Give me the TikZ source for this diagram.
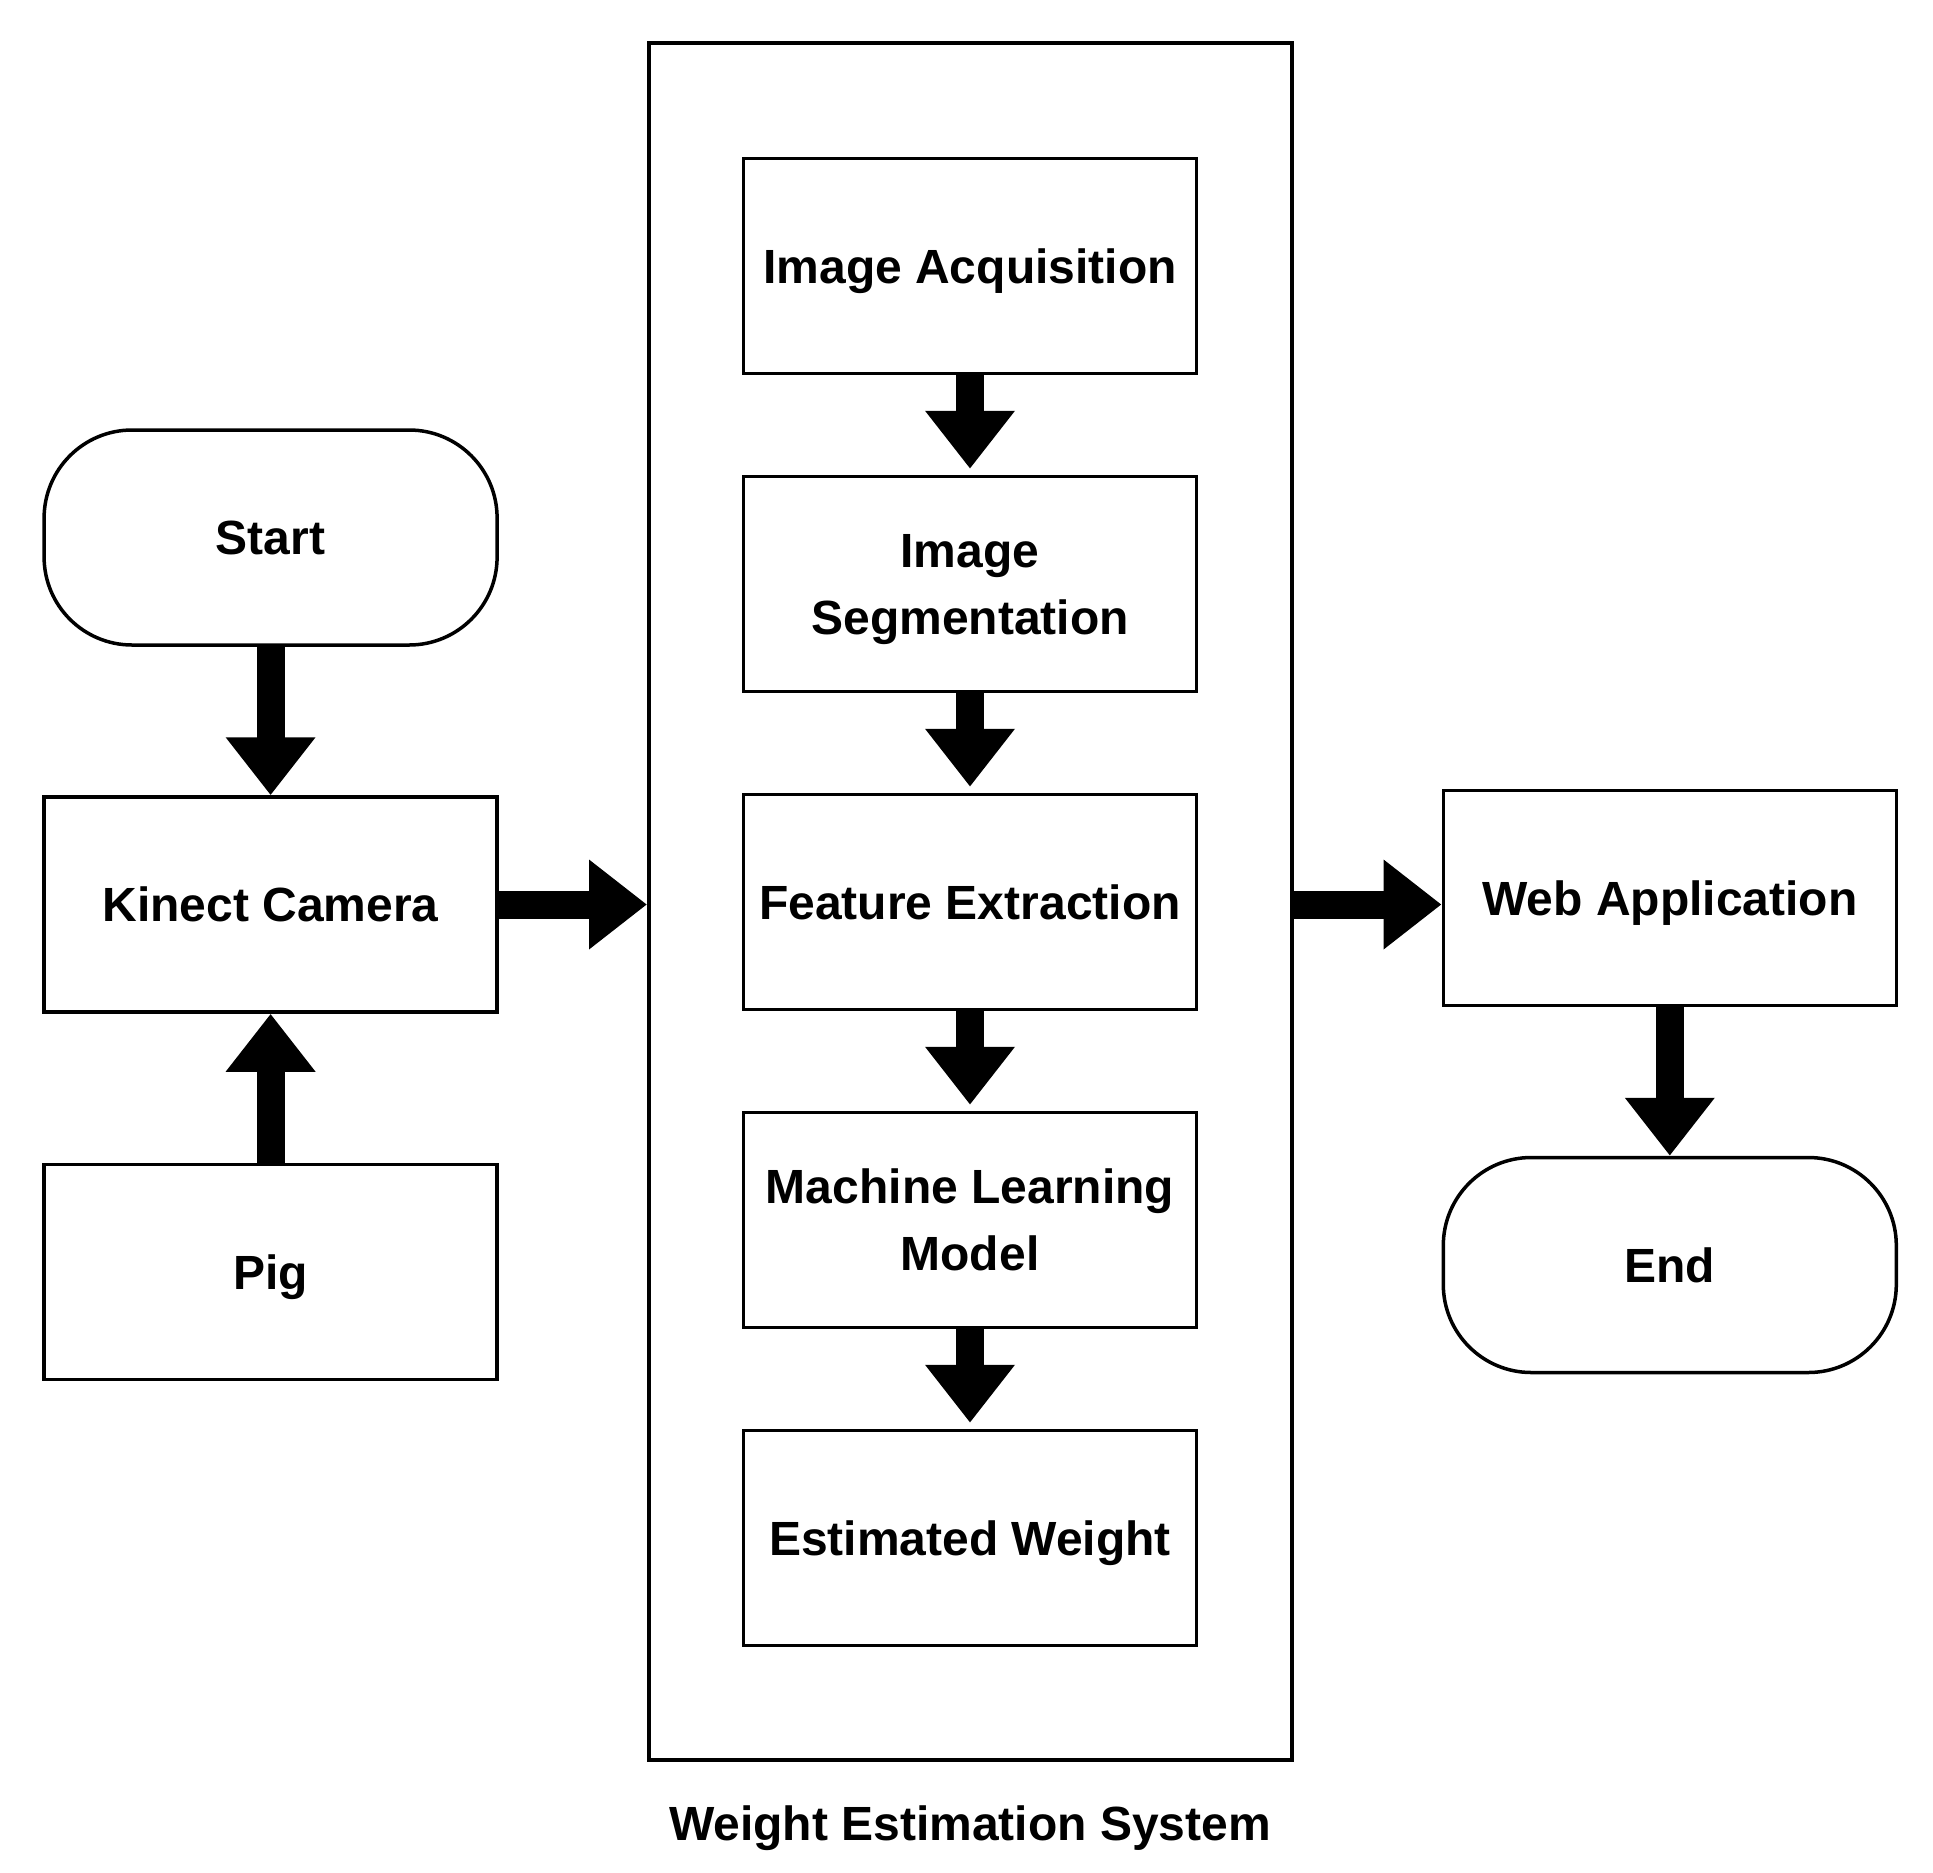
\documentclass[tikz,border=0pt]{standalone}
\usepackage{fontspec}
\setmainfont{Liberation Sans}
\usetikzlibrary{arrows.meta}
\begin{document}
\begin{tikzpicture}[x=1pt,y=-1pt,
  box/.style={draw=black, line width=3.5pt, fill=white, minimum width=453pt, minimum height=215pt,
    align=center, inner sep=0pt, text depth=0pt, font=\fontsize{48}{67}\selectfont\bfseries},
  term/.style={box, rounded corners=88pt},
  blockarrow/.style={line width=28pt, -{Triangle[width=86pt,length=58pt]}},
  midarrow/.style={blockarrow, shorten >=6pt}
]
\useasboundingbox (0,0) rectangle (1933,1872);
\fill[white] (0,0) rectangle (1933,1872);
% system frame
\node[draw=black, line width=3.5pt, minimum width=643pt, minimum height=1717pt, inner sep=0pt] (sys) at (970.25,901.5) {};
\node[font=\fontsize{48}{67}\selectfont\bfseries, text depth=0pt] (syslabel) at (970,1823) {Weight Estimation System};
% left column
\node[term] (start) at (270.6,537.5) {Start};
\node[box] (kinect) at (270.6,904.5) {Kinect Camera};
\node[box] (pig) at (270.6,1272) {Pig};
% middle column
\node[box] (acq) at (970,266) {Image Acquisition};
\node[box] (seg) at (970,584) {Image\\Segmentation};
\node[box] (feat) at (970,902) {Feature Extraction};
\node[box] (ml) at (970,1220) {Machine Learning\\Model};
\node[box] (est) at (970,1538) {Estimated Weight};
% right column
\node[box] (web) at (1669.8,898) {Web Application};
\node[term] (end) at (1669.8,1265) {End};
% arrows
\draw[blockarrow] (start.south) -- (kinect.north);
\draw[blockarrow] (pig.north) -- (kinect.south);
\draw[blockarrow] (kinect.east) -- (kinect.east -| sys.west);
\draw[midarrow] (acq.south) -- (seg.north);
\draw[midarrow] (seg.south) -- (feat.north);
\draw[midarrow] (feat.south) -- (ml.north);
\draw[midarrow] (ml.south) -- (est.north);
\draw[blockarrow] (kinect.east -| sys.east) -- (kinect.east -| web.west);
\draw[blockarrow] (web.south) -- (end.north);
\end{tikzpicture}
\end{document}
